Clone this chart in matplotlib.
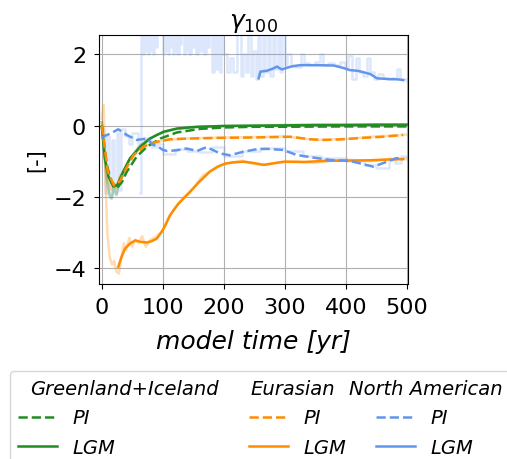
import matplotlib
matplotlib.use('Agg')
import matplotlib.pyplot as plt
from matplotlib.lines import Line2D

# smoothed series (running means)
gi_lgm_x = [0, 5, 11, 19, 25, 35, 46, 63, 79, 101, 123, 156, 199, 250, 300, 350, 400, 450, 500]
gi_lgm_y = [-0.03, -0.92, -1.43, -1.71, -1.67, -1.29, -0.92, -0.59, -0.36, -0.17, -0.08, -0.03, -0.01, 0.0, 0.01, 0.02, 0.02, 0.03, 0.03]
gi_pi_x = [0, 8, 16, 25, 33, 41, 57, 74, 96, 123, 161, 199, 250, 300, 400, 500]
gi_pi_y = [0.0, -1.1, -1.6, -1.75, -1.58, -1.29, -0.87, -0.59, -0.36, -0.19, -0.09, -0.05, -0.03, -0.03, -0.02, -0.02]

eu_pi_x = [0, 10, 20, 30, 40, 52, 68, 90, 112, 145, 199, 250, 309, 341, 363, 396, 429, 461, 494]
eu_pi_y = [0.0, -1.3, -1.68, -1.55, -1.2, -0.83, -0.59, -0.45, -0.38, -0.36, -0.34, -0.33, -0.31, -0.38, -0.40, -0.38, -0.34, -0.31, -0.26]
eu_lgm_x = [27, 32, 38, 46, 55, 63, 74, 82, 90, 98, 104, 112, 125, 145, 160, 177, 190, 203, 215, 232,
            250, 265, 280, 300, 330, 363, 400, 440, 470, 494]
eu_lgm_y = [-3.96, -3.7, -3.45, -3.31, -3.22, -3.26, -3.28, -3.24, -3.17, -2.98, -2.8, -2.51, -2.2, -1.85, -1.57, -1.29, -1.15, -1.06, -1.03, -1.01,
            -1.05, -1.1, -1.06, -1.01, -1.02, -0.99, -0.98, -0.97, -0.95, -0.94]

na_pi_x = [0, 3, 14, 27, 41, 57, 74, 84, 90, 100, 107, 123, 139, 156, 172, 194, 210, 232, 254, 270,
           297, 319, 352, 374, 407, 445, 461, 483, 494]
na_pi_y = [-0.36, -0.3, -0.22, -0.1, -0.26, -0.4, -0.36, -0.54, -0.56, -0.68, -0.71, -0.69, -0.64, -0.71, -0.6, -0.78, -0.83, -0.73, -0.66, -0.65,
           -0.68, -0.82, -0.91, -0.96, -0.99, -1.15, -1.05, -0.91, -0.94]
na_lgm_x = [257, 260, 270, 280, 287, 295, 310, 325, 350, 380, 396, 407, 420, 429, 440, 451, 470, 486, 494]
na_lgm_y = [1.33, 1.52, 1.54, 1.60, 1.66, 1.58, 1.66, 1.70, 1.70, 1.69, 1.62, 1.56, 1.54, 1.50, 1.45, 1.33, 1.31, 1.30, 1.28]

# raw (annual) series, drawn faint
gi_raw_x = [0, 4, 8, 12, 16, 20, 24, 28, 32, 38, 44, 50, 60, 70, 80, 90, 100, 120, 150, 200, 300, 400, 500]
gi_raw_y = [0.1, -0.8, -1.5, -1.9, -2.05, -1.7, -1.95, -1.6, -1.5, -1.2, -1.0, -0.85, -0.6, -0.45, -0.35, -0.25, -0.2, -0.1, -0.05, 0.0, 0.02, 0.03, 0.02]

eu_pi_raw_x = [0, 5, 10, 15, 20, 25, 30, 36, 42, 50, 60, 70, 85, 100, 120, 150, 200, 250, 300, 350, 400, 450, 500]
eu_pi_raw_y = [0.1, -0.9, -1.5, -1.8, -1.6, -1.75, -1.4, -1.3, -1.05, -0.85, -0.7, -0.55, -0.5, -0.42, -0.38, -0.35, -0.33, -0.32, -0.3, -0.4, -0.37, -0.3, -0.25]
eu_lgm_raw_x = [0, 3, 6, 9, 13, 17, 20, 24, 28, 32, 36, 40, 45, 50, 55, 60, 66, 72, 80, 90,
                100, 110, 120, 135, 150, 165, 180, 195, 210, 230, 250, 270, 290, 320, 350, 380, 410, 440, 470, 500]
eu_lgm_raw_y = [0.2, 0.58, -1.5, -3.0, -3.7, -3.9, -3.8, -4.1, -4.15, -3.7, -3.3, -3.5, -3.15, -3.4, -3.2, -3.3, -3.1, -3.4, -3.2, -3.1,
                -2.95, -2.55, -2.3, -2.0, -1.75, -1.4, -1.25, -1.1, -1.05, -0.98, -1.08, -1.1, -1.02, -1.0, -1.05, -0.97, -0.96, -1.0, -0.93, -0.92]

na_pi_raw_x = [0, 3, 5, 8, 12, 16, 20, 25, 28, 32, 38, 45, 50, 60, 70, 80, 90, 100, 120, 140,
               160, 180, 200, 230, 260, 300, 330, 360, 400, 430, 450, 470, 480, 490, 500]
na_pi_raw_y = [-0.1, -0.4, -1.9, -0.3, -2.0, -0.4, -1.9, -0.2, -1.8, -0.1, -0.3, -0.5, -0.2, -0.5, -0.35, -0.6, -0.5, -0.8, -0.65, -0.7,
               -0.75, -0.6, -0.85, -0.7, -0.62, -0.7, -0.85, -0.9, -1.0, -1.1, -1.2, -0.95, -1.05, -0.85, -0.95]
# values of 4 are off the top of the chart
na_lgm_raw_x = [63, 65, 67, 69, 71, 73, 75, 78, 80, 82,
                84, 86, 88, 91, 100, 102, 104, 106, 108, 110,
                112, 114, 116, 118, 120, 122, 124, 126, 128, 130,
                132, 134, 136, 138, 140, 143, 146, 149, 152, 155,
                158, 161, 164, 167, 170, 173, 176, 178, 181, 184,
                187, 190, 193, 196, 199, 205, 210, 215, 222, 228,
                232, 236, 240, 244, 248, 252, 256, 260, 264, 268,
                272, 276, 280, 284, 288, 292, 296, 300, 304, 310,
                318, 326, 332, 340, 350, 358, 362, 370, 380, 390,
                398, 404, 410, 416, 422, 428, 434, 440, 446, 452,
                460, 468, 476, 484, 488, 494, 500]
na_lgm_raw_y = [-1.9, 4, 2.0, 4, 2.1, 4, 2.0, 4, 2.1, 4,
                2.0, 4, 2.2, 4, 2.0, 4, 2.1, 4, 2.0, 4,
                2.2, 4, 2.0, 4, 2.1, 4, 2.0, 4, 2.3, 4,
                4, 2.0, 4, 2.1, 4, 2.0, 4, 2.2, 4, 2.0,
                4, 2.1, 4, 2.0, 4, 2.2, 4, 4, 1.5, 4,
                1.6, 4, 1.5, 4, 2.0, 1.5, 1.9, 1.5, 4, 1.4,
                2.0, 1.5, 4, 1.4, 2.1, 1.3, 4, 1.4, 4, 1.5,
                4, 1.4, 4, 1.6, 4, 1.5, 4, 1.7, 2.0, 1.7,
                1.65, 2.0, 1.75, 1.7, 1.8, 2.0, 1.7, 1.75, 1.7, 1.8,
                1.65, 1.95, 1.3, 1.9, 1.5, 1.4, 1.9, 1.5, 1.3, 1.45,
                1.35, 1.3, 1.35, 1.6, 1.3, 1.3, 1.25]

regions = ['Greenland+Iceland', 'Eurasian', 'North American']
c_gi = 'forestgreen'
c_eu = 'darkorange'
c_na = 'cornflowerblue'

fig = plt.figure(figsize=(5.07, 4.6), dpi=100)
ax = fig.add_axes([0.196, 0.380, 0.609, 0.542])

fa = 0.3
lw = 1.8
ax.plot(na_lgm_raw_x, na_lgm_raw_y, color=c_na, alpha=0.22, lw=lw, drawstyle='steps-post')
ax.plot(na_pi_raw_x, na_pi_raw_y, color=c_na, alpha=0.22, lw=lw, drawstyle='steps-post')
ax.plot(eu_lgm_raw_x, eu_lgm_raw_y, color=c_eu, alpha=fa, lw=lw)
ax.plot(eu_pi_raw_x, eu_pi_raw_y, color=c_eu, alpha=fa, lw=lw)
ax.plot(gi_raw_x, gi_raw_y, color=c_gi, alpha=fa, lw=lw)

l_gi_pi, = ax.plot(gi_pi_x, gi_pi_y, '--', color=c_gi, lw=lw)
l_gi_lgm, = ax.plot(gi_lgm_x, gi_lgm_y, '-', color=c_gi, lw=lw)
l_eu_pi, = ax.plot(eu_pi_x, eu_pi_y, '--', color=c_eu, lw=lw)
l_eu_lgm, = ax.plot(eu_lgm_x, eu_lgm_y, '-', color=c_eu, lw=lw)
l_na_pi, = ax.plot(na_pi_x, na_pi_y, '--', color=c_na, lw=lw)
l_na_lgm, = ax.plot(na_lgm_x, na_lgm_y, '-', color=c_na, lw=lw)

ax.set_xlim(-4, 502)
ax.set_ylim(-4.45, 2.55)
ax.set_xticks([0, 100, 200, 300, 400, 500])
ax.set_yticks([-4, -2, 0, 2])
ax.tick_params(labelsize=16, pad=6)
ax.grid(True)
ax.set_title(r'$\gamma_{100}$', fontsize=18, pad=6)
ax.set_xlabel('model time [yr]', fontsize=18, style='italic', labelpad=8)
ax.set_ylabel('[-]', fontsize=15, labelpad=5)

blank = Line2D([], [], linestyle='none')
handles = [blank, l_gi_pi, l_gi_lgm, blank, l_eu_pi, l_eu_lgm, blank, l_na_pi, l_na_lgm]
labels = [regions[0], 'PI', 'LGM', regions[1], 'PI', 'LGM', regions[2], 'PI', 'LGM']
leg = fig.legend(handles, labels, ncol=3, loc='upper left', bbox_to_anchor=(10 / 507, 1 - 372 / 460),
                 borderaxespad=0, prop={'size': 14, 'style': 'italic'}, labelspacing=0.55,
                 columnspacing=1.54)
# header rows: no handle space, shifted left (widths in points)
for col, dw in zip(leg._legend_handle_box.get_children(), [-2.2, -9.7, -30.6]):
    col.get_children()[0].get_children()[0].width = dw

fig.savefig('out.png', dpi=100)
plt.close(fig)
